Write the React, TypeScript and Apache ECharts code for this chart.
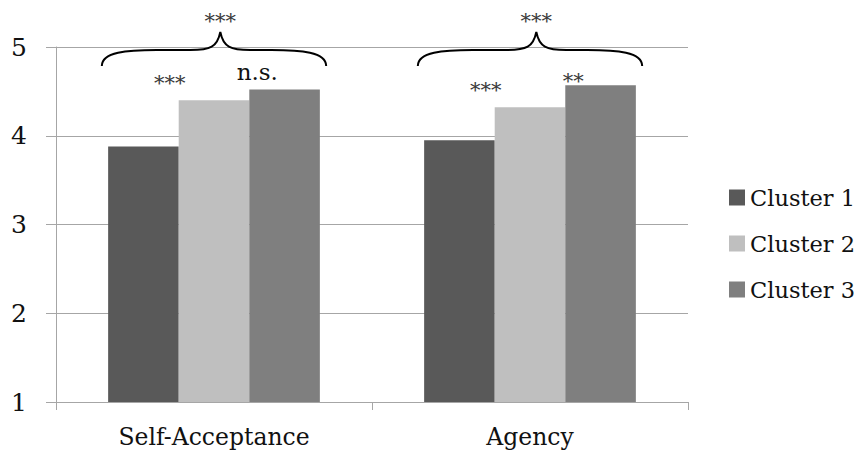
import React, { useEffect, useRef } from "react";
import * as echarts from "echarts";

const categories = ["Self-Acceptance", "Agency"];
const cluster1 = [3.88, 3.95];
const cluster2 = [4.4, 4.32];
const cluster3 = [4.52, 4.57];
const seriesNames = ["Cluster 1", "Cluster 2", "Cluster 3"];
const overallSig = ["***", "***"];
const sig12 = ["***", "***"];
const sig23 = ["n.s.", "**"];

const FONT = "DejaVu Serif";

export default function App() {
  const ref = useRef<HTMLDivElement>(null);
  useEffect(() => {
    if (!ref.current) return;
    const chart = echarts.init(ref.current, null, { renderer: "svg" });
    const catGap = 0.33;
    const isStar = (t: string) => t.indexOf("*") >= 0;
    const sigText = (text: string, x: number, glyphY: number) => {
      const star = isStar(text);
      return {
        type: "text",
        style: {
          text,
          x,
          y: star ? glyphY + 4 : glyphY,
          align: "center",
          verticalAlign: "middle",
          fontFamily: FONT,
          fontSize: star ? 21 : 23,
          fill: star ? "#3a3a3a" : "#111",
        },
      };
    };
    const option: any = {
      animation: false,
      backgroundColor: "#ffffff",
      grid: { left: 56, right: 167, top: 47, bottom: 55 },
      legend: {
        orient: "vertical",
        left: 724,
        top: 181,
        icon: "rect",
        itemWidth: 16,
        itemHeight: 16,
        itemGap: 23,
        itemTextGap: 7,
        data: seriesNames,
        textStyle: { fontFamily: FONT, fontSize: 22.5, color: "#111", lineHeight: 22 },
      },
      xAxis: {
        type: "category",
        data: categories,
        axisLine: { show: true, lineStyle: { color: "#a6a6a6", width: 1 } },
        axisTick: { show: true, length: 8, lineStyle: { color: "#a6a6a6" } },
        axisLabel: { fontFamily: FONT, fontSize: 23.5, color: "#111", margin: 23 },
      },
      yAxis: {
        type: "value",
        min: 1,
        max: 5,
        interval: 1,
        axisLine: { show: true, lineStyle: { color: "#a6a6a6", width: 1 } },
        axisTick: { show: true, length: 10, lineStyle: { color: "#a6a6a6" } },
        splitLine: { show: true, lineStyle: { color: "#a6a6a6", width: 1 } },
        axisLabel: { fontFamily: FONT, fontSize: 25, color: "#111", margin: 29 },
      },
      series: [
        {
          name: seriesNames[0],
          type: "bar",
          data: cluster1,
          barGap: "0%",
          barCategoryGap: catGap * 100 + "%",
          itemStyle: { color: "#595959" },
        },
        {
          name: seriesNames[1],
          type: "bar",
          data: cluster2,
          barGap: "0%",
          barCategoryGap: catGap * 100 + "%",
          itemStyle: { color: "#bfbfbf" },
        },
        {
          name: seriesNames[2],
          type: "bar",
          data: cluster3,
          barGap: "0%",
          barCategoryGap: catGap * 100 + "%",
          itemStyle: { color: "#7f7f7f" },
        },
        {
          type: "custom",
          silent: true,
          clip: false,
          z: 10,
          data: categories.map((_, i) => [i]),
          renderItem: (params: any, api: any) => {
            const idx = api.value(0);
            const top = api.coord([idx, 5]);
            const bandW = api.size([1, 0])[0];
            const xC = top[0] + bandW * 0.02;
            const half = bandW * 0.355;
            const xL = top[0] - half;
            const xR = top[0] + half;
            const yTop = top[1];
            const yEnd = yTop + 19;
            const yMid = yTop + 3;
            const yTip = yTop - 15;
            const d =
              `M ${xL} ${yEnd} C ${xL} ${yMid + 2} ${xL + 25} ${yMid} ${xL + 55} ${yMid} ` +
              `L ${xC - 30} ${yMid} C ${xC - 10} ${yMid} ${xC - 3} ${yMid - 3} ${xC} ${yTip} ` +
              `C ${xC + 3} ${yMid - 3} ${xC + 10} ${yMid} ${xC + 30} ${yMid} ` +
              `L ${xR - 55} ${yMid} C ${xR - 25} ${yMid} ${xR} ${yMid + 2} ${xR} ${yEnd}`;
            const bw = (bandW * (1 - catGap)) / 3;
            const c = top[0];
            const y12 = api.coord([idx, Math.max(cluster1[idx], cluster2[idx])])[1];
            const y23 = api.coord([idx, Math.max(cluster2[idx], cluster3[idx])])[1];
            const off23 = isStar(sig23[idx]) ? -8 : -18;
            return {
              type: "group",
              children: [
                {
                  type: "path",
                  shape: { pathData: d },
                  style: { stroke: "#000", lineWidth: 2, fill: "none" },
                },
                sigText(overallSig[idx], xC, yTip - 15),
                sigText(sig12[idx], c - bw / 2 - 9, y12 - 21),
                sigText(sig23[idx], c + bw / 2 + 8, y23 + off23),
              ],
            };
          },
        },
      ],
    };
    chart.setOption(option);
    return () => chart.dispose();
  }, []);
  return (
    <div
      ref={ref}
      style={{ position: "fixed", left: 0, top: 0, width: 855, height: 457 }}
    />
  );
}
